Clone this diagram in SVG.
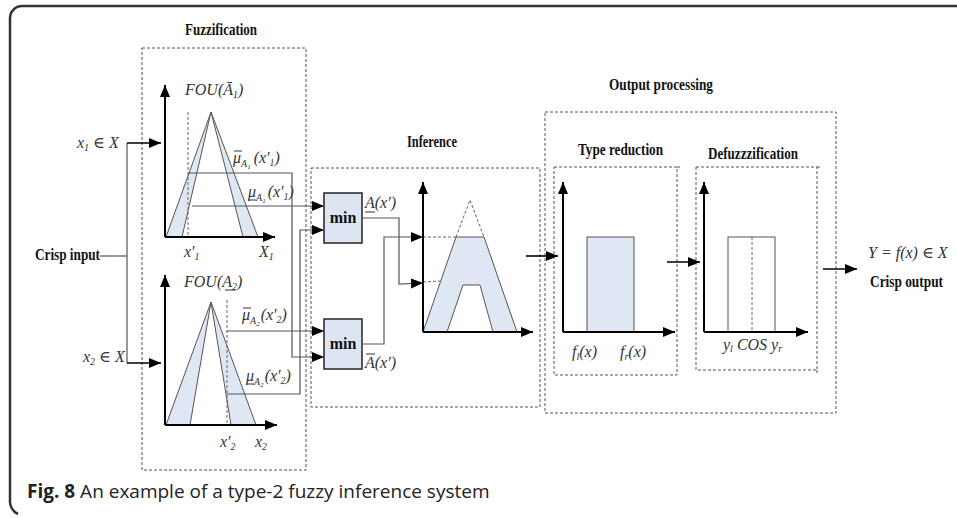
<svg xmlns="http://www.w3.org/2000/svg" width="957" height="518" viewBox="0 0 957 518">
<style>
.frame{fill:none;stroke:#333;stroke-width:2.5}
.dbox{fill:none;stroke:#555;stroke-width:1;stroke-dasharray:3 2}
.axis{fill:none;stroke:#000;stroke-width:2}
.fou{fill:#dfe7f4;stroke:#555;stroke-width:1}
.hole{fill:#fff;stroke:#555;stroke-width:1}
.thin{fill:none;stroke:#555;stroke-width:1}
.dash{fill:none;stroke:#666;stroke-width:1;stroke-dasharray:3 2}
.conn{fill:none;stroke:#555;stroke-width:1.2}
.flow{fill:none;stroke:#000;stroke-width:1.6}
.minbox{fill:#dde5f2;stroke:#222;stroke-width:1.5}
.ttl{font-family:"Liberation Serif",serif;font-weight:bold;font-size:16px;fill:#111}
.m{font-family:"Liberation Serif","DejaVu Serif",serif;font-style:italic;font-size:16px;fill:#333}
.cap{font-family:"Open Sans","Noto Sans",sans-serif;font-size:19px;fill:#222}
.bar{stroke:#333;stroke-width:1}
</style>
<defs>
<marker id="ah" markerUnits="userSpaceOnUse" markerWidth="12" markerHeight="12" viewBox="0 0 12 12" refX="12" refY="6" orient="auto">
<path d="M0,1 L12,6 L0,11 Z" fill="#000"/>
</marker>
</defs>

<path class="frame" d="M957 6 H22 A12 12 0 0 0 10 18 V500 A14 14 0 0 0 18 514"/>

<g id="fuzzification">
<rect class="dbox" x="142" y="48" width="164" height="422"/>
<text class="ttl" x="185" y="35" textLength="72" lengthAdjust="spacingAndGlyphs">Fuzzification</text>
</g>

<g id="fou-a1">
<polygon class="fou" points="211,112 166,237 258,237"/>
<polygon class="hole" points="211,112 182,237 243,237"/>
<line class="dash" x1="188" y1="112" x2="188" y2="237"/>
<line class="axis" x1="165" y1="237" x2="165" y2="85" marker-end="url(#ah)"/>
<line class="axis" x1="165" y1="237" x2="275" y2="237" marker-end="url(#ah)"/>
<text class="m" x="185" y="95">FOU(Ā<tspan dy="3" font-size="10">1</tspan><tspan dy="-3">)</tspan></text>
<text class="m" x="233" y="163">μ<tspan dy="4" font-size="10">A</tspan><tspan dy="2" font-size="7">1</tspan><tspan dy="-6" dx="3">(x′</tspan><tspan dy="3" font-size="10">1</tspan><tspan dy="-3">)</tspan></text>
<line class="bar" x1="234" y1="151" x2="242" y2="151"/>
<text class="m" x="248" y="197">μ<tspan dy="4" font-size="10">A</tspan><tspan dy="2" font-size="7">1</tspan><tspan dy="-6" dx="2">(x′</tspan><tspan dy="3" font-size="10">1</tspan><tspan dy="-3">)</tspan></text>
<line class="bar" x1="248" y1="200" x2="256" y2="200"/>
<text class="m" x="184" y="257" font-size="17">x′<tspan dy="3" font-size="10">1</tspan></text>
<text class="m" x="259" y="257" font-size="17">X<tspan dy="3" font-size="10">1</tspan></text>
</g>

<g id="fou-a2">
<polygon class="fou" points="211,302 166,425 256,425"/>
<polygon class="hole" points="211,302 190,425 231,425"/>
<line class="dash" x1="227" y1="300" x2="227" y2="425"/>
<line class="axis" x1="165" y1="425" x2="165" y2="275" marker-end="url(#ah)"/>
<line class="axis" x1="165" y1="425" x2="277" y2="425" marker-end="url(#ah)"/>
<text class="m" x="184" y="287">FOU(A<tspan dy="3" font-size="10">2</tspan><tspan dy="-3">)</tspan></text>
<line class="bar" x1="225" y1="290" x2="235" y2="290"/>
<text class="m" x="242" y="320">μ<tspan dy="4" font-size="10">A</tspan><tspan dy="2" font-size="7">2</tspan><tspan dy="-6" dx="1">(x′</tspan><tspan dy="3" font-size="10">2</tspan><tspan dy="-3">)</tspan></text>
<line class="bar" x1="243" y1="308" x2="251" y2="308"/>
<text class="m" x="246" y="381">μ<tspan dy="4" font-size="10">A</tspan><tspan dy="2" font-size="7">2</tspan><tspan dy="-6" dx="1">(x′</tspan><tspan dy="3" font-size="10">2</tspan><tspan dy="-3">)</tspan></text>
<line class="bar" x1="246" y1="384" x2="254" y2="384"/>
<text class="m" x="220" y="447" font-size="17">x′<tspan dy="3" font-size="10">2</tspan></text>
<text class="m" x="255" y="447" font-size="17">x<tspan dy="3" font-size="10">2</tspan></text>
</g>

<g id="crisp-input">
<text class="ttl" x="35" y="260" font-size="15" textLength="65" lengthAdjust="spacingAndGlyphs">Crisp input</text>
<text class="m" x="77" y="148">x<tspan dy="3" font-size="10">1</tspan><tspan dy="-3"> ∈ X</tspan></text>
<text class="m" x="83" y="362">x<tspan dy="3" font-size="10">2</tspan><tspan dy="-3"> ∈ X</tspan></text>
</g>

<g id="inference">
<rect class="dbox" x="311" y="168" width="229" height="239"/>
<text class="ttl" x="407" y="147" textLength="50" lengthAdjust="spacingAndGlyphs">Inference</text>
<polygon class="fou" points="423,332 456,237 484,237 517,332"/>
<polygon class="hole" points="447,332 463,285 480,285 493,332"/>
<polyline class="dash" points="456,237 470,200 484,237"/>
<line class="dash" x1="423" y1="237" x2="456" y2="237"/>
<line class="dash" x1="423" y1="282" x2="440" y2="281"/>
<line class="axis" x1="423" y1="332" x2="423" y2="182" marker-end="url(#ah)"/>
<line class="axis" x1="423" y1="332" x2="533" y2="332" marker-end="url(#ah)"/>
<text class="m" x="365" y="208">A(x′)</text>
<line class="bar" x1="365" y1="212" x2="375" y2="212"/>
<text class="m" x="365" y="368">A(x′)</text>
<line class="bar" x1="366" y1="354" x2="375" y2="354"/>
</g>

<g id="min-top">
<rect class="minbox" x="324" y="193" width="38" height="50"/>
<text class="ttl" x="343" y="223" text-anchor="middle" font-size="15">min</text>
</g>
<g id="min-bottom">
<rect class="minbox" x="324" y="319" width="38" height="50"/>
<text class="ttl" x="343" y="349" text-anchor="middle" font-size="15">min</text>
</g>

<g id="output-processing">
<rect class="dbox" x="545" y="112" width="291" height="301"/>
<text class="ttl" x="609" y="90" textLength="104" lengthAdjust="spacingAndGlyphs">Output processing</text>
</g>

<g id="type-reduction">
<rect class="dbox" x="554" y="167" width="123" height="208"/>
<line class="dbox" x1="677" y1="167" x2="682" y2="167"/>
<text class="ttl" x="578" y="155" textLength="85" lengthAdjust="spacingAndGlyphs">Type reduction</text>
<rect class="fou" x="587" y="237" width="47" height="95"/>
<line class="axis" x1="563" y1="332" x2="563" y2="182" marker-end="url(#ah)"/>
<line class="axis" x1="563" y1="332" x2="675" y2="332" marker-end="url(#ah)"/>
<text class="m" x="572" y="357" font-size="17">f<tspan dy="3" font-size="10">l</tspan><tspan dy="-3">(x)</tspan></text>
<text class="m" x="620" y="357" font-size="17">f<tspan dy="3" font-size="10">r</tspan><tspan dy="-3">(x)</tspan></text>
</g>

<g id="defuzzification">
<rect class="dbox" x="696" y="167" width="121" height="203"/>
<line class="dbox" x1="817" y1="167" x2="822" y2="167"/>
<line class="dbox" x1="817" y1="370" x2="817" y2="375"/>
<text class="ttl" x="708" y="159" textLength="90" lengthAdjust="spacingAndGlyphs">Defuzzzification</text>
<rect class="hole" x="728" y="237" width="47" height="95"/>
<line class="dash" x1="752" y1="237" x2="752" y2="332"/>
<line class="axis" x1="704" y1="332" x2="704" y2="182" marker-end="url(#ah)"/>
<line class="axis" x1="704" y1="332" x2="808" y2="332" marker-end="url(#ah)"/>
<text class="m" x="723" y="350" font-size="15">y<tspan dy="2" font-size="10">l</tspan><tspan dy="-2"> COS y</tspan><tspan dy="2" font-size="10">r</tspan></text>
</g>

<g id="crisp-output">
<text class="m" x="868" y="258">Y = f(x) ∈ X</text>
<text class="ttl" x="870" y="287" textLength="73" lengthAdjust="spacingAndGlyphs">Crisp output</text>
</g>

<g id="connectors">
<polyline class="conn" points="100,256 127,256"/>
<polyline class="conn" points="127,143 127,363"/>
<line class="flow" x1="127" y1="143" x2="161" y2="143" marker-end="url(#ah)"/>
<line class="flow" x1="127" y1="363" x2="161" y2="363" marker-end="url(#ah)"/>
<polyline class="conn" points="188,173 292,173 292,357 324,357" marker-end="url(#ah)"/>
<polyline class="conn" points="192,206 324,206" marker-end="url(#ah)"/>
<polyline class="conn" points="227,394 300,394 300,230 324,230" marker-end="url(#ah)"/>
<polyline class="conn" points="227,331 324,331" marker-end="url(#ah)"/>
<polyline class="conn" points="362,218 399,218 399,284 423,283" marker-end="url(#ah)"/>
<polyline class="conn" points="362,344 384,344 384,237 423,237" marker-end="url(#ah)"/>
<line class="flow" x1="526" y1="256" x2="558" y2="256" marker-end="url(#ah)"/>
<line class="flow" x1="667" y1="262" x2="700" y2="262" marker-end="url(#ah)"/>
<line class="flow" x1="823" y1="269" x2="857" y2="269" marker-end="url(#ah)"/>
</g>

<text class="cap" x="27" y="498"><tspan font-weight="bold">Fig. 8</tspan> An example of a type-2 fuzzy inference system</text>
</svg>
